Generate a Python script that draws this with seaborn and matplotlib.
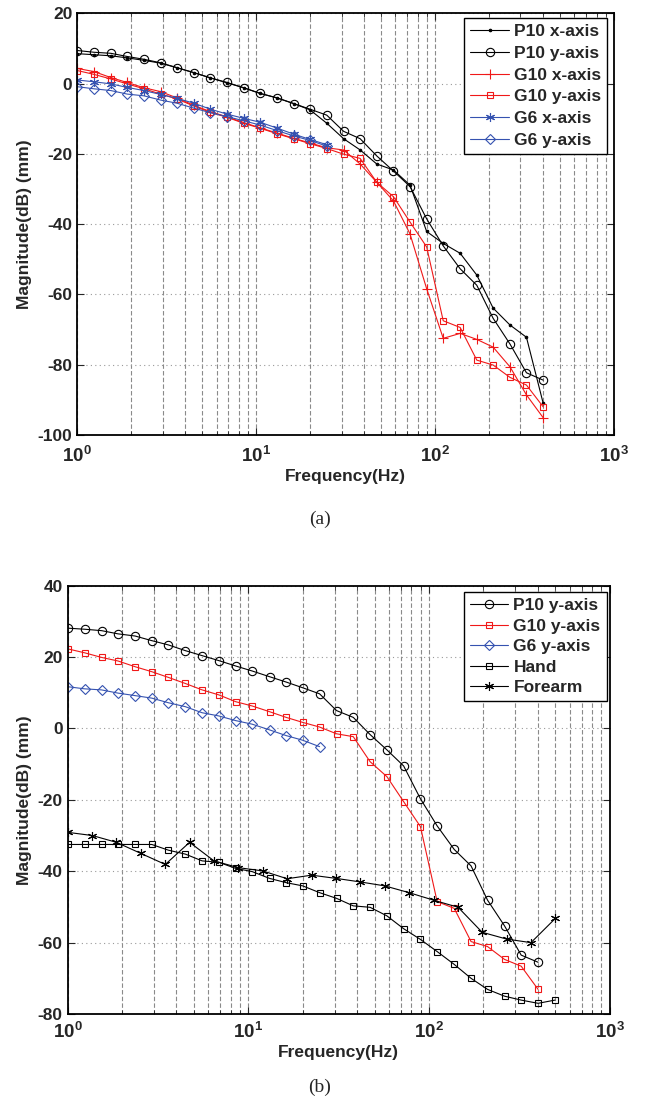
import numpy as np
import matplotlib
matplotlib.use("Agg")
import matplotlib.pyplot as plt
import seaborn as sns
from matplotlib.ticker import LogLocator, NullFormatter

# frequencies (Hz)
freq = [1.0, 1.24, 1.54, 1.9, 2.36, 2.92, 3.61, 4.48, 5.55, 6.87, 8.51, 10.5,
        13.1, 16.2, 20.0, 24.8, 30.8, 38.1, 47.2, 58.5, 72.4, 89.7, 111, 138,
        171, 211, 262, 324, 402, 498]
freq_forearm = [1.0, 1.37, 1.86, 2.54, 3.47, 4.73, 6.46, 8.81, 12.0, 16.4, 22.4,
                30.6, 41.7, 56.9, 77.6, 106, 145, 197, 269, 367, 501]

# (a) magnitudes
p10_x = [8.5, 8.2, 7.9, 7.3, 6.6, 5.8, 4.5, 3.1, 1.6, 0.2, -1.2, -2.8, -4.1, -5.7,
         -7.5, -11.3, -15.7, -18.9, -22.9, -24.6, -28.9, -42.1, -45.5, -48.3,
         -54.5, -63.9, -68.7, -72.2, -91.0]
p10_y_a = [9.4, 8.9, 8.6, 7.7, 6.9, 5.9, 4.5, 3.1, 1.6, 0.3, -1.2, -2.8, -4.1, -5.7,
           -7.3, -9.0, -13.6, -15.7, -20.6, -24.9, -29.3, -38.5, -46.2, -52.7,
           -57.4, -66.8, -74.1, -82.3, -84.4]
g10_x = [4.3, 3.4, 1.7, 0.3, -1.2, -2.3, -4.1, -6.2, -8.0, -9.5, -11.1, -12.6,
         -14.1, -15.6, -16.9, -18.3, -18.9, -22.9, -28.1, -33.4, -42.8, -58.4,
         -72.5, -71.1, -72.8, -75.0, -80.6, -88.6, -95.1]
g10_y_a = [3.7, 2.6, 1.3, -0.1, -1.5, -3.0, -4.4, -6.4, -8.2, -9.6, -11.3, -12.7,
           -14.3, -15.7, -17.1, -18.5, -20.1, -21.3, -28.1, -32.2, -39.4, -46.5,
           -67.5, -69.4, -78.7, -80.1, -83.6, -85.8, -92.0]
g6_x = [1.0, 0.5, -0.1, -1.1, -2.0, -3.1, -4.2, -5.6, -7.3, -8.7, -9.9, -11.0,
        -12.7, -14.4, -15.9, -17.4]
g6_y_a = [-0.9, -1.5, -2.0, -3.0, -3.5, -4.7, -5.6, -7.0, -8.3, -9.4, -10.6, -11.8,
          -13.4, -14.9, -16.2, -17.8]

# (b) magnitudes
p10_y_b = [28.1, 27.8, 27.4, 26.5, 25.9, 24.6, 23.4, 21.8, 20.4, 19.0, 17.5, 16.1,
           14.5, 13.0, 11.4, 9.7, 5.0, 3.1, -1.7, -6.0, -10.5, -19.7, -27.3, -33.9,
           -38.5, -48.1, -55.3, -63.5, -65.5]
g10_y_b = [22.3, 21.2, 19.9, 18.9, 17.3, 15.9, 14.3, 12.6, 10.8, 9.4, 7.5, 6.3, 4.7,
           3.1, 1.7, 0.4, -1.5, -2.3, -9.3, -13.5, -20.5, -27.5, -48.5, -50.4,
           -59.7, -61.1, -64.7, -66.6, -73.1]
g6_y_b = [11.7, 11.1, 10.8, 9.9, 9.2, 8.5, 7.2, 6.1, 4.4, 3.5, 2.2, 1.2, -0.4, -2.0,
          -3.3, -5.1]
hand = [-32.5, -32.5, -32.5, -32.5, -32.5, -32.5, -34.1, -35.2, -37.1, -37.5, -39.2,
        -40.1, -42.0, -43.2, -44.1, -46.0, -47.6, -49.7, -50.1, -52.5, -56.1, -59.1,
        -62.5, -66.1, -70.0, -73.1, -75.0, -76.1, -77.0, -76.1]
forearm = [-29.1, -30.0, -31.9, -35.0, -38.1, -31.9, -37.1, -39.0, -39.9, -42.1,
           -41.1, -42.0, -43.0, -44.1, -46.0, -48.1, -50.1, -57.1, -59.0, -60.0, -53.2]

RED = "#f01818"
BLUE = "#3552b0"
ASTER = (6, 2, 0)

sns.set_style("ticks")
plt.rcParams["font.family"] = ["Liberation Sans", "DejaVu Sans"]
plt.rcParams["font.weight"] = "bold"
plt.rcParams["mathtext.fontset"] = "custom"
plt.rcParams["mathtext.rm"] = "Liberation Sans:bold"
plt.rcParams["mathtext.bf"] = "Liberation Sans:bold"
plt.rcParams["mathtext.default"] = "bf"

FS = 12.5


def draw(ax, f, v, color, marker, ms, label, filled=False):
    sns.lineplot(x=f[:len(v)], y=v, ax=ax, color=color, marker=marker,
                 markersize=ms, linewidth=0.8, markeredgewidth=0.8,
                 markeredgecolor=color,
                 markerfacecolor=color if filled else "none", label=label)


def style_axis(ax, ylim, yticks, xpad):
    ax.set_xscale("log")
    ax.set_xlim(1, 1000)
    ax.set_ylim(*ylim)
    ax.set_yticks(yticks)
    ax.set_yticklabels([str(t) for t in yticks], fontsize=FS, fontweight="bold")
    ax.set_xticks([1, 10, 100, 1000])
    ax.set_xticklabels([r"$10^{0}$", r"$10^{1}$", r"$10^{2}$", r"$10^{3}$"],
                       fontsize=FS + 1)
    ax.xaxis.set_minor_locator(LogLocator(base=10, subs=np.arange(2, 10), numticks=30))
    ax.xaxis.set_minor_formatter(NullFormatter())
    ax.tick_params(which="both", direction="in", top=True, right=True)
    ax.tick_params(axis="x", which="major", pad=xpad)
    ax.tick_params(which="major", length=5, width=0.8)
    ax.tick_params(which="minor", length=3, width=0.6)
    ax.grid(True, axis="x", which="both", color="#8a8a8a",
            linestyle=(0, (4, 2)), linewidth=0.8)
    ax.grid(True, axis="y", which="major", color="#9a9a9a",
            linestyle=(0, (1, 3)), linewidth=0.8)
    for s in ax.spines.values():
        s.set_linewidth(1.3)
        s.set_color("black")
    ax.set_xlabel("Frequency(Hz)", fontsize=FS, fontweight="bold", labelpad=2)
    ax.set_ylabel("Magnitude(dB) (mm)", fontsize=FS, fontweight="bold", labelpad=4)


fig = plt.figure(figsize=(6.49, 11.04), dpi=100)

# (a)
ax1 = fig.add_axes([0.1191, 0.606, 0.827, 0.382])
draw(ax1, freq, p10_x, "black", "o", 1.8, "P10 x-axis", filled=True)
draw(ax1, freq, p10_y_a, "black", "o", 6, "P10 y-axis")
draw(ax1, freq, g10_x, RED, "+", 7, "G10 x-axis")
draw(ax1, freq, g10_y_a, RED, "s", 5, "G10 y-axis")
draw(ax1, freq, g6_x, BLUE, ASTER, 6.5, "G6 x-axis")
draw(ax1, freq, g6_y_a, BLUE, "D", 5, "G6 y-axis")
style_axis(ax1, (-100, 20), list(range(-100, 21, 20)), xpad=8)
ax1.legend(loc="upper right", bbox_to_anchor=(0.987, 0.989), borderaxespad=0,
           fancybox=False, edgecolor="black", framealpha=1,
           prop={"weight": "bold", "size": FS}, handlelength=2.2,
           labelspacing=0.38, borderpad=0.35, handletextpad=0.3)
ax1.get_legend().get_frame().set_linewidth(1.0)

# (b)
ax2 = fig.add_axes([0.1043, 0.0815, 0.835, 0.388])
draw(ax2, freq, p10_y_b, "black", "o", 6, "P10 y-axis")
draw(ax2, freq, g10_y_b, RED, "s", 5, "G10 y-axis")
draw(ax2, freq, g6_y_b, BLUE, "D", 5, "G6 y-axis")
draw(ax2, freq, hand, "black", "s", 5, "Hand")
draw(ax2, freq_forearm, forearm, "black", ASTER, 6.5, "Forearm")
style_axis(ax2, (-80, 40), list(range(-80, 41, 20)), xpad=6)
ax2.legend(loc="upper right", bbox_to_anchor=(0.9945, 0.9846), borderaxespad=0,
           fancybox=False, edgecolor="black", framealpha=1,
           prop={"weight": "bold", "size": FS}, handlelength=2.2,
           labelspacing=0.3, borderpad=0.35, handletextpad=0.3)
ax2.get_legend().get_frame().set_linewidth(1.0)

fig.text(0.493, 1 - 519 / 1104, "(a)", ha="center", va="center",
         family="Liberation Serif", fontweight="normal", fontsize=14)
fig.text(0.493, 1 - 1087 / 1104, "(b)", ha="center", va="center",
         family="Liberation Serif", fontweight="normal", fontsize=14)

fig.savefig("out.png", dpi=100)
